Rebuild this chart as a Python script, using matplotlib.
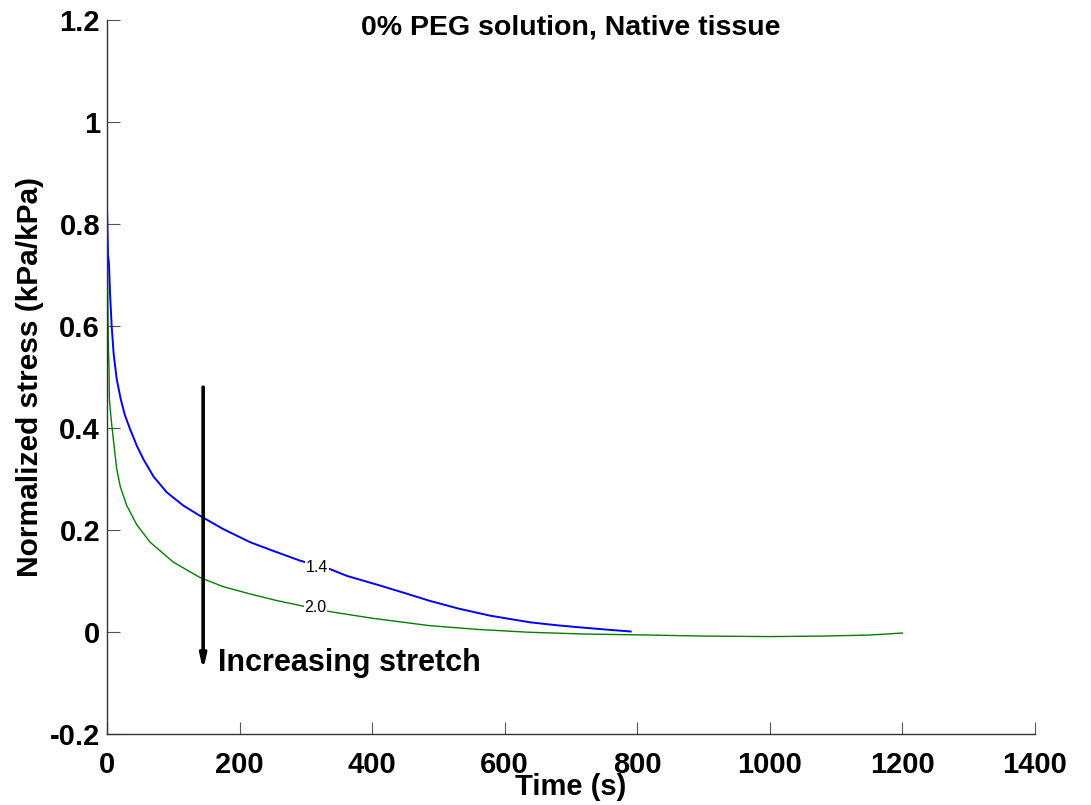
import matplotlib
matplotlib.use("Agg")
import matplotlib.pyplot as plt
import numpy as np

# Stress-relaxation curves (normalized stress vs time) for two stretch levels
t_14 = [0, 0.5, 1.5, 3, 4.5, 7, 10, 14.6, 20.6, 27, 34.7, 45, 54.8, 70, 90, 115, 140,
        175, 216, 255, 291, 336, 362, 412, 450, 487, 530, 578, 638, 680, 714, 760, 790]
s_14 = [0.83, 0.80, 0.74, 0.72, 0.665, 0.60, 0.545, 0.496, 0.457, 0.425, 0.398, 0.365,
        0.339, 0.305, 0.274, 0.248, 0.228, 0.202, 0.176, 0.157, 0.140, 0.1235, 0.110,
        0.091, 0.076, 0.061, 0.046, 0.032, 0.019, 0.013, 0.009, 0.004, 0.001]

t_20 = [0, 0.5, 1, 2, 3, 3.5, 6, 9.5, 14.6, 20, 29.7, 45, 65, 100, 140, 175, 216, 255,
        291, 336, 400, 487, 560, 638, 720, 819, 900, 1000, 1080, 1150, 1200]
s_20 = [1.0, 0.80, 0.68, 0.56, 0.516, 0.457, 0.42, 0.378, 0.32, 0.285, 0.248, 0.21,
        0.176, 0.137, 0.107, 0.089, 0.0745, 0.062, 0.052, 0.040, 0.027, 0.0124, 0.005,
        -0.0006, -0.004, -0.006, -0.008, -0.009, -0.008, -0.006, -0.002]

stretch_labels = ["1.4", "2.0"]
label_pos = [(317, 0.127), (314, 0.049)]

x_ticks = [0, 200, 400, 600, 800, 1000, 1200, 1400]
y_ticks = [-0.2, 0, 0.2, 0.4, 0.6, 0.8, 1, 1.2]
y_tick_labels = ["-0.2", "0", "0.2", "0.4", "0.6", "0.8", "1", "1.2"]

plt.rcParams["font.family"] = ["Liberation Sans", "DejaVu Sans"]

fig = plt.figure(figsize=(10.91, 8.05), dpi=100)
ax = fig.add_axes([0.0981, 0.0882, 0.8506, 0.887])

ax.plot(t_20, s_20, color="#008000", lw=1.0)
ax.plot(t_14, s_14, color="#0000ff", lw=1.4)

for lab, (lx, ly) in zip(stretch_labels, label_pos):
    ax.text(lx, ly, lab, fontsize=11.5, ha="center", va="center", color="black",
            bbox=dict(facecolor="white", edgecolor="none", pad=0.3))

# Direction arrow
ax.annotate("", xy=(145, -0.075), xytext=(145, 0.48),
            arrowprops=dict(arrowstyle="-|>,head_length=0.8,head_width=0.18",
                            color="black", lw=2.6, shrinkA=0, shrinkB=0))
ax.text(168, -0.060, "Increasing stretch", fontsize=22, fontweight="bold",
        ha="left", va="center")

ax.set_xlim(0, 1400)
ax.set_ylim(-0.2, 1.2)
ax.set_xticks(x_ticks)
ax.set_xticklabels([str(v) for v in x_ticks])
ax.set_yticks(y_ticks)
ax.set_yticklabels(y_tick_labels)
for lbl in ax.get_xticklabels() + ax.get_yticklabels():
    lbl.set_fontweight("bold")
    lbl.set_fontsize(21)

ax.tick_params(direction="in", length=9, width=0.8, color="#555555")
ax.tick_params(axis="x", pad=12)
ax.tick_params(axis="y", pad=5)
ax.spines["top"].set_visible(False)
ax.spines["right"].set_visible(False)
for s in ("left", "bottom"):
    ax.spines[s].set_color("#333333")
    ax.spines[s].set_linewidth(1.0)

ax.set_xlabel("Time (s)", fontsize=21, fontweight="bold", labelpad=-4)
ax.set_ylabel("Normalized stress (kPa/kPa)", fontsize=21.5, fontweight="bold", labelpad=4)
ax.text(0.5, 1.008, "0% PEG solution, Native tissue", transform=ax.transAxes,
        fontsize=20.5, fontweight="bold", ha="center", va="top")

fig.savefig("out.png", dpi=100)
